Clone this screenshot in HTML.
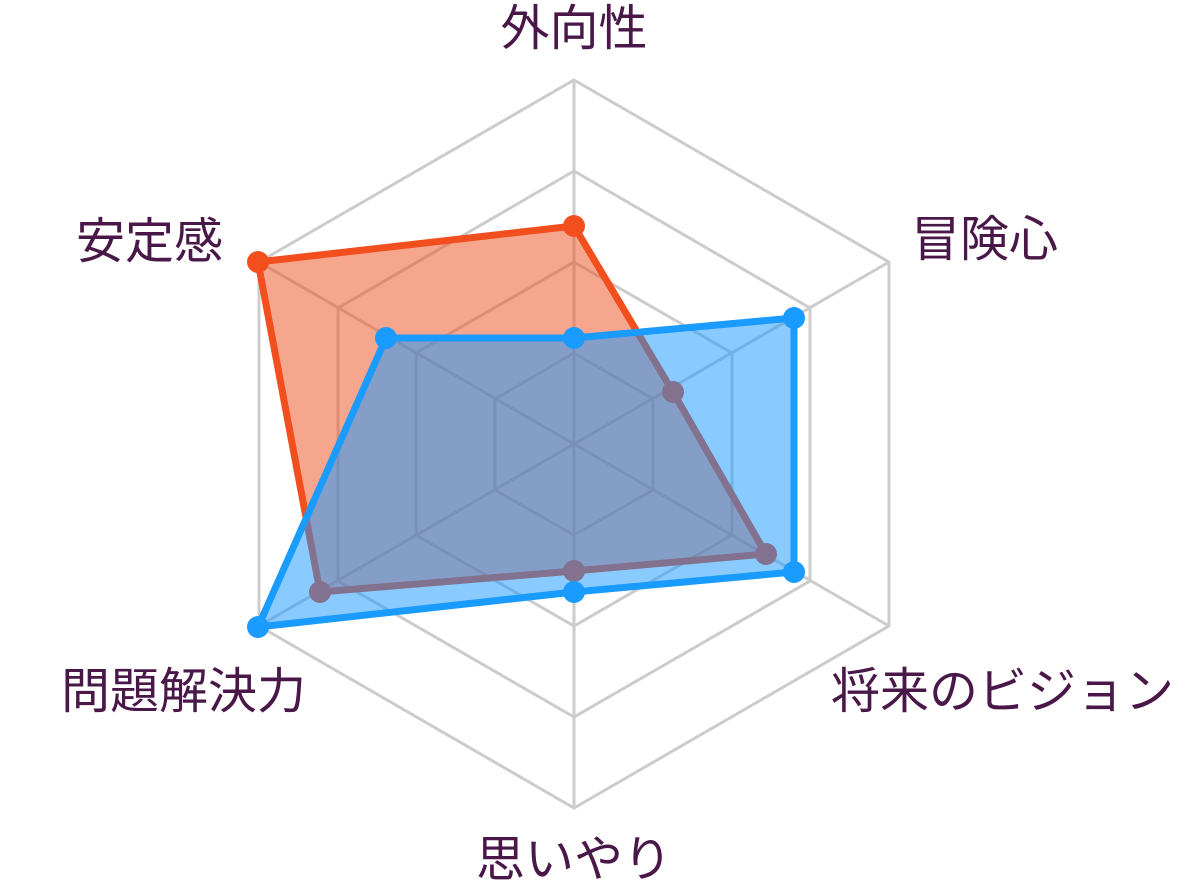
<!DOCTYPE html>
<html><head><meta charset="utf-8"><style>
html,body{margin:0;padding:0;background:#fff;}
svg{display:block}
text{font-family:"Liberation Sans","Noto Sans CJK JP",sans-serif;font-size:49px;fill:#4a1848;}
</style></head><body>
<svg width="1192" height="891" viewBox="0 0 1192 891" xmlns="http://www.w3.org/2000/svg">
<g fill="none" stroke="#cccccc" stroke-width="3">
<polygon points="574,80 889,262 889,626 574,808 259,626 259,262"/>
<polygon points="574,171 810,308 810,581 574,717 338,581 338,308"/>
<polygon points="574,262 732,353 732,535 574,626 416,535 416,353"/>
<polygon points="574,353 653,399 653,490 574,535 495,490 495,399"/>
<line x1="574" y1="444" x2="574" y2="80"/>
<line x1="574" y1="444" x2="889" y2="262"/>
<line x1="574" y1="444" x2="889" y2="626"/>
<line x1="574" y1="444" x2="574" y2="808"/>
<line x1="574" y1="444" x2="259" y2="626"/>
<line x1="574" y1="444" x2="259" y2="262"/>
</g>
<g>
<polygon points="574,226 673,392 766,554 574,571 320,592 258,262" fill="rgba(240,78,30,0.5)" stroke="#f24e1e" stroke-width="7" stroke-linejoin="round"/>
<g fill="#f24e1e">
<circle cx="574" cy="226" r="11"/><circle cx="673" cy="392" r="11"/><circle cx="766" cy="554" r="11"/>
<circle cx="574" cy="571" r="11"/><circle cx="320" cy="592" r="11"/><circle cx="258" cy="262" r="11"/>
</g>
</g>
<g>
<polygon points="574,338 794,318 794,572 574,592 258,627 386,338" fill="rgba(20,150,255,0.5)" stroke="#1a9bff" stroke-width="7" stroke-linejoin="round"/>
<g fill="#1a9bff">
<circle cx="574" cy="338" r="11"/><circle cx="794" cy="318" r="11"/><circle cx="794" cy="572" r="11"/>
<circle cx="574" cy="592" r="11"/><circle cx="258" cy="627" r="11"/><circle cx="386" cy="338" r="11"/>
</g>
</g>
<text x="574" y="45" text-anchor="middle">外向性</text>
<text x="911" y="256">冒険心</text>
<text x="831" y="708">将来のビジョン</text>
<text x="574" y="876" text-anchor="middle">思いやり</text>
<text x="306" y="708" text-anchor="end">問題解決力</text>
<text x="223" y="258" text-anchor="end">安定感</text>
</svg>
</body></html>
